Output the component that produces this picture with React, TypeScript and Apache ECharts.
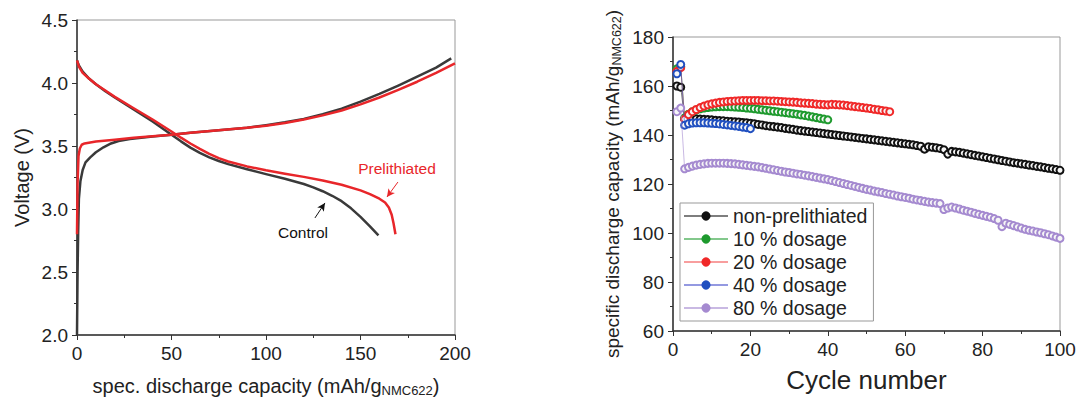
import React, { useEffect, useRef } from "react";
import * as echarts from "echarts";

const FONT = "'Liberation Sans', Arial, sans-serif";

// Left panel: voltage profiles [capacity mAh/g, voltage V]
const controlCharge = [
  [0, 2.0], [0.3, 2.5], [0.6, 2.8], [1.0, 3.08], [1.8, 3.22], [3, 3.31], [4.5, 3.37], [7, 3.41],
  [10, 3.45], [14, 3.49], [18, 3.52], [22, 3.54], [28, 3.555], [40, 3.575], [50, 3.59], [60, 3.605],
  [75, 3.625], [90, 3.645], [100, 3.665], [110, 3.688], [120, 3.715], [130, 3.752], [140, 3.797],
  [150, 3.852], [160, 3.913], [170, 3.98], [180, 4.05], [190, 4.122], [198, 4.195],
];
const prelithCharge = [
  [0, 2.8], [0.3, 3.2], [0.8, 3.42], [1.5, 3.48], [2.5, 3.51], [4, 3.52], [10, 3.535], [20, 3.55],
  [30, 3.565], [40, 3.578], [50, 3.59], [60, 3.605], [75, 3.625], [90, 3.645], [100, 3.66],
  [110, 3.683], [120, 3.71], [130, 3.743], [140, 3.782], [150, 3.83], [160, 3.885], [170, 3.946],
  [180, 4.01], [190, 4.08], [200, 4.155],
];
const controlDischarge = [
  [0, 4.18], [1, 4.14], [3, 4.09], [6, 4.04], [10, 3.99], [15, 3.935], [20, 3.885], [30, 3.79],
  [40, 3.695], [50, 3.59], [55, 3.537], [60, 3.487], [65, 3.445], [70, 3.41], [75, 3.381],
  [80, 3.356], [90, 3.315], [100, 3.277], [110, 3.24], [120, 3.198], [125, 3.172], [130, 3.141],
  [135, 3.105], [140, 3.062], [145, 3.005], [150, 2.937], [155, 2.862], [159.5, 2.79],
];
const prelithDischarge = [
  [0, 4.18], [1, 4.13], [3, 4.08], [6, 4.04], [10, 3.99], [15, 3.94], [20, 3.89], [30, 3.8],
  [40, 3.71], [50, 3.615], [55, 3.566], [60, 3.52], [65, 3.477], [70, 3.438], [75, 3.404],
  [80, 3.377], [90, 3.338], [100, 3.307], [110, 3.28], [120, 3.255], [130, 3.226], [140, 3.192],
  [150, 3.148], [155, 3.118], [160, 3.082], [163, 3.052], [165, 3.012], [166.5, 2.955],
  [167.5, 2.885], [168.5, 2.8],
];

// Right panel: specific discharge capacity per cycle (cycle 1..N)
const nonPrelith = [
  160, 159.5, 146.5, 146.6, 146.6, 146.6, 146.5, 146.4, 146.3, 146.2,
  146.0, 145.9, 145.8, 145.6, 145.5, 145.4, 145.3, 145.1, 145.0, 144.8,
  144.6, 144.3, 144.1, 143.8, 143.6, 143.4, 143.2, 143.0, 142.7, 142.5,
  142.3, 142.0, 141.8, 141.6, 141.4, 141.2, 141.0, 140.8, 140.6, 140.4,
  140.2, 140.0, 139.8, 139.6, 139.4, 139.2, 139.0, 138.8, 138.6, 138.4,
  138.2, 138.0, 137.8, 137.6, 137.4, 137.2, 137.0, 136.8, 136.6, 136.4,
  136.2, 136.0, 135.7, 135.4, 134.2, 135.2, 135.0, 134.8, 134.5, 134.0,
  132.2, 133.3, 133.1, 132.9, 132.6, 132.3, 132.0, 131.7, 131.4, 131.1,
  130.8, 130.5, 130.2, 129.9, 129.6, 129.3, 129.0, 128.7, 128.5, 128.2,
  128.0, 127.7, 127.5, 127.2, 127.0, 126.7, 126.4, 126.2, 125.9, 125.6,
];
const dosage10 = [
  167, 168, 147, 148.5, 149.5, 150.2, 150.7, 151.0, 151.2, 151.4,
  151.5, 151.6, 151.6, 151.6, 151.5, 151.4, 151.3, 151.2, 151.0, 150.9,
  150.7, 150.5, 150.3, 150.1, 149.9, 149.7, 149.5, 149.3, 149.1, 148.9,
  148.7, 148.5, 148.2, 148.0, 147.7, 147.4, 147.1, 146.8, 146.5, 146.2,
];
const dosage20 = [
  166, 167.5, 146.5, 148.3, 149.5, 150.4, 151.2, 151.8, 152.3, 152.7,
  153.0, 153.3, 153.5, 153.7, 153.8, 153.9, 154.0, 154.1, 154.1, 154.1,
  154.1, 154.1, 154.0, 154.0, 153.9, 153.9, 153.8, 153.7, 153.6, 153.5,
  153.4, 153.3, 153.1, 153.0, 152.9, 152.8, 152.6, 152.5, 152.4, 152.3,
  152.5, 152.4, 152.3, 152.2, 152.0, 151.8, 151.6, 151.4, 151.2, 151.0,
  150.8, 150.5, 150.3, 150.0, 149.8, 149.5,
];
const dosage40 = [
  165, 168.8, 144.0, 144.6, 144.9, 145.0, 145.0, 145.0, 144.9, 144.8,
  144.7, 144.5, 144.3, 144.1, 143.9, 143.7, 143.5, 143.2, 143.0, 142.6,
];
const dosage80 = [
  149.5, 151, 126.2, 126.8, 127.3, 127.7, 128.0, 128.2, 128.4, 128.5,
  128.5, 128.5, 128.5, 128.4, 128.3, 128.2, 128.0, 127.8, 127.6, 127.4,
  127.2, 127.0, 126.7, 126.4, 126.1, 125.8, 125.5, 125.2, 124.9, 124.7,
  124.4, 124.1, 123.9, 123.6, 123.3, 123.0, 122.7, 122.4, 122.1, 121.8,
  121.4, 121.0, 120.6, 120.2, 119.8, 119.4, 119.0, 118.6, 118.2, 117.8,
  117.5, 117.1, 116.8, 116.5, 116.1, 115.8, 115.5, 115.1, 114.8, 114.5,
  114.2, 113.8, 113.5, 113.2, 112.9, 112.6, 112.4, 112.2, 112.0, 109.6,
  110.2, 110.6, 110.2, 109.8, 109.3, 108.9, 108.5, 108.0, 107.6, 107.2,
  106.8, 106.4, 105.9, 105.2, 102.6, 104.0, 103.5, 103.0, 102.5, 102.0,
  101.5, 101.1, 100.8, 100.4, 100.1, 99.7, 99.3, 98.8, 98.3, 97.8,
];

const cycleSeries = [
  { name: "non-prelithiated", values: nonPrelith, color: "#111111", line: "rgba(40,40,40,0.6)" },
  { name: "10 % dosage", values: dosage10, color: "#1e9a2e", line: "rgba(30,154,46,0.55)" },
  { name: "20 % dosage", values: dosage20, color: "#f02828", line: "rgba(240,40,40,0.45)" },
  { name: "40 % dosage", values: dosage40, color: "#2150c0", line: "rgba(60,70,200,0.55)" },
  { name: "80 % dosage", values: dosage80, color: "#a58ad0", line: "rgba(165,138,208,0.6)" },
];

const BLACK = "#3a3a3a";
const RED = "#e8262a";

function axisCommon() {
  return {
    axisLine: { show: true, onZero: false, lineStyle: { color: "#333", width: 1.5 } },
    axisTick: { show: true, inside: false, length: 5, lineStyle: { color: "#333", width: 1 } },
    splitLine: { show: false },
    axisLabel: { fontSize: 19, color: "#222", fontFamily: FONT, margin: 9 },
  };
}

export default function App() {
  const ref = useRef<HTMLDivElement>(null);
  useEffect(() => {
    const chart = echarts.init(ref.current!, null, { renderer: "svg" });
    const lineBase = (data: number[][], color: string, z: number) => ({
      type: "line",
      xAxisIndex: 0,
      yAxisIndex: 0,
      data,
      showSymbol: false,
      symbol: "none",
      smooth: false,
      lineStyle: { color, width: 2.5, join: "round" },
      z,
      silent: true,
    });
    const subRich = {
      sub: { fontSize: 13, fontFamily: FONT, color: "#222", padding: [9, 0, 0, 0] },
    };
    const option: any = {
      animation: false,
      backgroundColor: "#fff",
      textStyle: { fontFamily: FONT },
      grid: [
        { left: 77, top: 20, width: 378, height: 315, show: true, borderColor: "#999", borderWidth: 1 },
        { left: 673, top: 37, width: 387, height: 294, show: true, borderColor: "#999", borderWidth: 1 },
      ],
      xAxis: [
        {
          gridIndex: 0, type: "value", min: 0, max: 200, interval: 50,
          ...axisCommon(),
          minorTick: { show: true, splitNumber: 2, length: 3, lineStyle: { color: "#333" } },
          name: "spec. discharge capacity (mAh/g{sub|NMC622})",
          nameLocation: "middle", nameGap: 40,
          nameTextStyle: { fontSize: 20, color: "#222", fontFamily: FONT, rich: subRich },
        },
        {
          gridIndex: 1, type: "value", min: 0, max: 100, interval: 20,
          ...axisCommon(),
          minorTick: { show: true, splitNumber: 2, length: 3, lineStyle: { color: "#333" } },
          name: "Cycle number", nameLocation: "middle", nameGap: 36,
          nameTextStyle: { fontSize: 26, color: "#222", fontFamily: FONT },
        },
      ],
      yAxis: [
        {
          gridIndex: 0, type: "value", min: 2, max: 4.5, interval: 0.5,
          ...axisCommon(),
          axisLabel: { fontSize: 19, color: "#222", fontFamily: FONT, margin: 9, formatter: (v: number) => v.toFixed(1) },
          minorTick: { show: true, splitNumber: 2, length: 3, lineStyle: { color: "#333" } },
          name: "Voltage (V)", nameLocation: "middle", nameGap: 45,
          nameTextStyle: { fontSize: 20, color: "#222", fontFamily: FONT },
        },
        {
          gridIndex: 1, type: "value", min: 60, max: 180, interval: 20,
          ...axisCommon(),
          minorTick: { show: true, splitNumber: 2, length: 3, lineStyle: { color: "#333" } },
          name: "specific discharge capacity (mAh/g{sub|NMC622})", nameLocation: "middle", nameGap: 50,
          nameTextStyle: { fontSize: 19, color: "#222", fontFamily: FONT, rich: { sub: { fontSize: 12.5, fontFamily: FONT, color: "#222", padding: [9, 0, 0, 0] } } },
        },
      ],
      legend: {
        orient: "vertical",
        left: 680,
        top: 203,
        itemWidth: 44,
        itemHeight: 9,
        itemGap: 3,
        padding: [3, 6, 3, 3],
        borderColor: "#999",
        borderWidth: 1,
        backgroundColor: "#fff",
        textStyle: { fontSize: 19.5, color: "#222", fontFamily: FONT, lineHeight: 20 },
        data: cycleSeries.map((s) => ({ name: s.name, itemStyle: { color: s.color, borderColor: s.color } })),
      },
      series: [
        lineBase(controlCharge, BLACK, 2),
        lineBase(controlDischarge, BLACK, 2),
        lineBase(prelithCharge, RED, 3),
        {
          ...lineBase(prelithDischarge, RED, 3),
          markPoint: {
            symbol: "circle",
            symbolSize: 0,
            data: [
              { coord: [169.3, 3.325], label: { show: true, formatter: "Prelithiated", color: RED, fontSize: 15.5, fontFamily: FONT } },
              { coord: [119.6, 2.81], label: { show: true, formatter: "Control", color: "#111", fontSize: 15.5, fontFamily: FONT } },
            ],
          },
          markLine: {
            silent: true,
            symbol: ["none", "arrow"],
            symbolSize: [6, 8],
            label: { show: false },
            data: [
              [{ coord: [169.8, 3.214], lineStyle: { color: RED, width: 1, type: "solid" } }, { coord: [164, 3.095] }],
              [{ coord: [125.9, 2.929], lineStyle: { color: "#111", width: 1, type: "solid" } }, { coord: [131.2, 3.048] }],
            ],
          },
        },
        ...cycleSeries.map((s, k) => ({
          type: "line",
          name: s.name,
          xAxisIndex: 1,
          yAxisIndex: 1,
          data: s.values.map((v, i) => [i + 1, v]),
          symbol: "circle",
          symbolSize: 7,
          showAllSymbol: true,
          itemStyle: { color: "#f6f6f6", borderColor: s.color, borderWidth: 2 },
          lineStyle: { color: s.line, width: 1 },
          z: 2 + k,
        })),
      ],
    };
    chart.setOption(option);
    return () => chart.dispose();
  }, []);
  return <div ref={ref} style={{ position: "absolute", left: 0, top: 0, width: 1080, height: 403 }} />;
}
